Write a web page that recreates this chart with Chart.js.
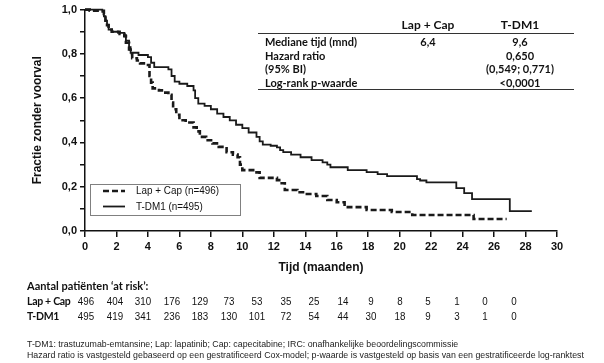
<!DOCTYPE html>
<html>
<head>
<meta charset="utf-8">
<script src="https://cdn.jsdelivr.net/npm/chart.js@4.4.0/dist/chart.umd.min.js"></script>
<style>
  body { margin: 0; background: #fff; }
  #wrap { position: relative; width: 604px; height: 363px; overflow: hidden; color: #111; font-family: "Liberation Sans", Arial, sans-serif; }
  #chart { position: absolute; left: 0; top: 0; }
  .t { position: absolute; white-space: nowrap; line-height: 14px; }
  .cal { font-family: Lato, "Open Sans", sans-serif; font-weight: bold; font-size: 11px; }
  .lab { letter-spacing: -0.3px; font-size: 10.5px; }
  .c { text-align: center; width: 100px; }
  .num { font-family: "Liberation Sans", sans-serif; font-size: 11.5px; text-align: center; width: 30px; transform: scaleX(0.85); }
  .foot { font-family: "Liberation Sans", Arial, sans-serif; font-size: 8.8px; color: #222; line-height: 11px; }
  .rule { position: absolute; height: 0; border-top: 1.5px solid #333; }
</style>
</head>
<body>
<div id="wrap">
  <canvas id="chart" width="604" height="363"></canvas>
</div>
<script>
// Kaplan-Meier: tijd (maanden) en fractie zonder voorval
const tdm1Months = [0, 1.1, 1.2, 1.3, 1.4, 1.5, 1.7, 2.1, 2.5, 2.6, 2.8, 2.9, 3.4, 4.0, 4.2, 4.4, 5.3, 5.5, 5.7, 6.0,
  6.5, 6.9, 7.0, 7.2, 7.6, 8.0, 8.4, 8.8, 9.2, 9.6, 10.0, 10.4, 10.9, 11.1, 11.3, 11.8, 12.2, 12.4, 12.6, 13.1,
  13.7, 14.4, 15.1, 15.4, 15.6, 16.7, 17.9, 18.6, 19.2, 21.1, 21.3, 21.7, 23.6, 24.1, 24.6, 27.0, 28.4];
const tdm1Surv = [1.0, 0.99, 0.97, 0.95, 0.93, 0.91, 0.90, 0.895, 0.885, 0.86, 0.83, 0.805, 0.795, 0.785, 0.76, 0.74, 0.73, 0.70, 0.675, 0.665,
  0.655, 0.635, 0.60, 0.575, 0.565, 0.55, 0.53, 0.515, 0.50, 0.48, 0.465, 0.445, 0.425, 0.405, 0.39, 0.385, 0.378, 0.365, 0.356, 0.345,
  0.333, 0.32, 0.31, 0.30, 0.288, 0.275, 0.266, 0.257, 0.248, 0.234, 0.228, 0.22, 0.194, 0.171, 0.144, 0.09, 0.09];

const lapMonths = [0, 0.3, 1.2, 1.3, 1.4, 1.5, 1.7, 2.2, 2.5, 2.6, 2.8, 2.9, 3.0, 3.3, 3.5, 3.9, 4.1, 4.2, 4.3, 4.7,
  5.0, 5.3, 5.5, 5.6, 5.8, 6.0, 6.4, 6.9, 7.1, 7.3, 7.7, 8.1, 8.5, 9.0, 9.4, 9.7, 9.85, 10.0, 10.9, 11.1,
  12.2, 12.5, 12.7, 13.5, 14.1, 14.7, 15.4, 16.0, 16.5, 17.9, 19.5, 20.8, 24.7, 26.8];
const lapSurv = [1.0, 0.995, 0.98, 0.95, 0.93, 0.91, 0.90, 0.89, 0.88, 0.85, 0.82, 0.80, 0.78, 0.77, 0.757, 0.75, 0.70, 0.67, 0.644, 0.635,
  0.625, 0.615, 0.58, 0.55, 0.525, 0.50, 0.49, 0.468, 0.45, 0.425, 0.41, 0.396, 0.38, 0.356, 0.345, 0.333, 0.30, 0.275, 0.265, 0.24,
  0.23, 0.216, 0.185, 0.175, 0.167, 0.158, 0.14, 0.13, 0.108, 0.095, 0.086, 0.072, 0.054, 0.054];

// aantal at risk per 2 maanden
const riskTimes = [0, 2, 4, 6, 8, 10, 12, 14, 16, 18, 20, 22, 24, 26, 28, 30];
const riskLap = [496, 404, 310, 176, 129, 73, 53, 35, 25, 14, 9, 8, 5, 1, 0, 0];
const riskTdm1 = [495, 419, 341, 236, 183, 130, 101, 72, 54, 44, 30, 18, 9, 3, 1, 0];

// statistiek tabel
const statLabels = ['Mediane tijd (mnd)', 'Hazard ratio', '(95% BI)', 'Log-rank p-waarde'];
const statLap = ['6,4', '', '', ''];
const statTdm1 = ['9,6', '0,650', '(0,549; 0,771)', '<0,0001'];

const wrap = document.getElementById('wrap');
function addText(html, cls, left, top, extra) {
  const d = document.createElement('div');
  d.className = 't ' + cls;
  d.style.left = left + 'px';
  d.style.top = top + 'px';
  if (extra) Object.assign(d.style, extra);
  d.innerHTML = html;
  wrap.appendChild(d);
  return d;
}
function addRule(left, top, width) {
  const d = document.createElement('div');
  d.className = 'rule';
  d.style.left = left + 'px';
  d.style.top = top + 'px';
  d.style.width = width + 'px';
  wrap.appendChild(d);
}

// tabel rechtsboven
addText('Lap + Cap', 'cal c', 378, 18, {fontSize: '12px'});
addText('T-DM1', 'cal c', 470, 18, {fontSize: '12px'});
addRule(258, 33, 316);
statLabels.forEach((lab, i) => {
  const y = 35 + i * 13.7;
  addText(lab, 'cal', 265, y);
  addText(statLap[i], 'cal c', 378, y);
  addText(statTdm1[i], 'cal c', 470, y);
});
addRule(258, 89, 316);

// at risk
addText('Aantal patiënten ‘at risk’:', 'cal', 27, 279);
addText('Lap + Cap', 'cal lab', 27, 294);
addText('T-DM1', 'cal lab', 27, 309);
riskTimes.forEach((t, i) => {
  const cx = 86 + i * 28.5;
  addText(riskLap[i], 'num', cx - 15, 294);
  addText(riskTdm1[i], 'num', cx - 15, 309);
});

addText('T-DM1: trastuzumab-emtansine; Lap: lapatinib; Cap: capecitabine; IRC: onafhankelijke beoordelingscommissie', 'foot', 27, 339);
addText('Hazard ratio is vastgesteld gebaseerd op een gestratificeerd Cox-model; p-waarde is vastgesteld op basis van een gestratificeerde log-ranktest', 'foot', 27, 350);

const legendBox = {
  id: 'legendBox',
  afterDraw(chart) {
    const ctx = chart.ctx;
    ctx.save();
    ctx.fillStyle = '#fff';
    ctx.fillRect(90.5, 184.5, 150, 31);
    ctx.strokeStyle = '#808080';
    ctx.lineWidth = 1;
    ctx.strokeRect(90.5, 184.5, 150, 31);
    chart.data.datasets.forEach((ds, i) => {
      const y = 191 + i * 15.5;
      ctx.strokeStyle = ds.borderColor;
      ctx.lineWidth = ds.borderWidth;
      ctx.setLineDash(ds.borderDash || []);
      ctx.beginPath();
      ctx.moveTo(103, y);
      ctx.lineTo(125, y);
      ctx.stroke();
      ctx.setLineDash([]);
      ctx.save();
      ctx.translate(136, y);
      ctx.scale(0.86, 1);
      ctx.fillStyle = '#111';
      ctx.font = '11.5px "Liberation Sans", sans-serif';
      ctx.textBaseline = 'middle';
      ctx.fillText(ds.label, 0, 0);
      ctx.restore();
    });
    ctx.restore();
  }
};

const tickFont = {family: '"Liberation Sans", Arial, sans-serif', size: 11, weight: 'bold'};

new Chart(document.getElementById('chart'), {
  type: 'line',
  data: {
    datasets: [{
      label: 'Lap + Cap (n=496)',
      data: lapMonths.map((t, i) => ({x: t, y: lapSurv[i]})),
      borderColor: '#1a1a1a',
      borderWidth: 2.6,
      borderDash: [6, 3],
      stepped: true,
      pointRadius: 0,
      clip: 5
    }, {
      label: 'T-DM1 (n=495)',
      data: tdm1Months.map((t, i) => ({x: t, y: tdm1Surv[i]})),
      borderColor: '#1a1a1a',
      borderWidth: 1.8,
      stepped: true,
      pointRadius: 0,
      clip: 5
    }]
  },
  options: {
    responsive: false,
    animation: false,
    layout: {padding: {left: 0, right: 47, top: 9, bottom: 84}},
    plugins: {legend: {display: false}, tooltip: {enabled: false}},
    scales: {
      x: {
        type: 'linear', min: 0, max: 30,
        ticks: {stepSize: 2, font: tickFont, color: '#111', padding: 3, maxRotation: 0, autoSkip: false},
        grid: {drawOnChartArea: false, drawTicks: true, tickLength: 6, color: '#111', lineWidth: 1.5},
        border: {color: '#111', width: 1.5},
        title: {display: true, text: 'Tijd (maanden)', color: '#111',
          font: {family: '"Liberation Sans", Arial, sans-serif', size: 12, weight: 'bold'}, padding: {top: 4, bottom: 4}},
        afterFit(s) { s.height = 48; }
      },
      y: {
        min: 0, max: 1,
        ticks: {
          stepSize: 0.1, font: tickFont, color: '#111', padding: 3, autoSkip: false,
          callback(v) {
            const r = Math.round(v * 10);
            return r % 2 === 0 ? (r / 10).toFixed(1).replace('.', ',') : '';
          }
        },
        grid: {drawOnChartArea: false, drawTicks: true, tickLength: 5, color: '#111', lineWidth: 1.5},
        border: {color: '#111', width: 1.5},
        title: {display: true, text: 'Fractie zonder voorval', color: '#111',
          font: {family: '"Liberation Sans", Arial, sans-serif', size: 12, weight: 'bold'}, padding: {top: 30, bottom: 0}},
        afterFit(s) { s.width = 85; }
      }
    }
  },
  plugins: [legendBox]
});
</script>
</body>
</html>
